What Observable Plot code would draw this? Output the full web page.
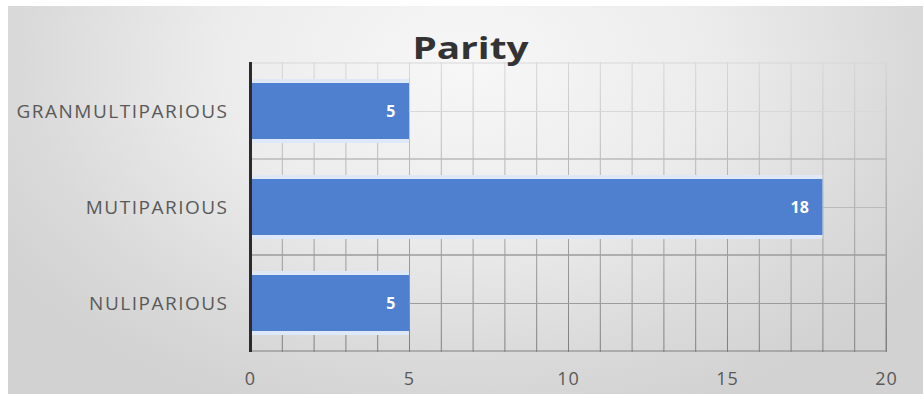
<!DOCTYPE html>
<html>
<head>
<meta charset="utf-8">
<script src="https://cdn.jsdelivr.net/npm/d3@7"></script>
<script src="https://cdn.jsdelivr.net/npm/@observablehq/plot@0.6"></script>
<style>
  html, body { margin: 0; padding: 0; background: #ffffff; }
  #chart { position: relative; width: 923px; height: 394px; overflow: hidden; }
  #chart .bg {
    position: absolute; left: 8px; top: 6px; right: 0; bottom: 0;
    background: radial-gradient(ellipse 60% 95% at 50% 15%, #f7f7f7 0%, #ececec 45%, #dadada 80%, #d2d2d2 100%);
  }
  #chart svg { position: absolute; left: 0; top: 0; }
  #chart .title {
    position: absolute; left: 0; width: 923px; top: 27px; text-align: center;
    font-family: "Open Sans", sans-serif; font-weight: 700; font-size: 31px;
    color: #333333; line-height: 40px; transform: translateX(9px) scaleX(1.25);
    pointer-events: none;
  }
</style>
</head>
<body>
<div id="chart"><div class="bg"></div></div>
<script>
// Parity of respondents
const categories = ["GRANMULTIPARIOUS", "MUTIPARIOUS", "NULIPARIOUS"];
const counts = [5, 18, 5];
const xTicks = [0, 5, 10, 15, 20];

const rows = categories.map((c, i) => ({category: c, count: counts[i]}));

const gridStroke = "url(#gridFade)";

const plot = Plot.plot({
  width: 923,
  height: 394,
  marginLeft: 250,
  marginRight: 37,
  marginTop: 62,
  marginBottom: 42,
  style: {background: "transparent", fontFamily: "Open Sans, sans-serif"},
  x: {domain: [0, 20], ticks: xTicks, label: null},
  y: {domain: categories, padding: 0, label: null},
  marks: [
    // minor vertical grid every unit
    Plot.gridX({interval: 1, stroke: gridStroke, strokeOpacity: 1}),
    // band boundaries and band centers
    Plot.cell(categories, {y: d => d, fill: "none", stroke: gridStroke}),
    Plot.ruleY(categories, {y: d => d, stroke: gridStroke}),
    // soft glow around bars
    Plot.barX(rows, {x: "count", y: "category", fill: "#dfe8f7", insetTop: 16, insetBottom: 16}),
    Plot.barX(rows, {x: "count", y: "category", fill: "#4f7fcf", insetTop: 20, insetBottom: 20}),
    Plot.ruleX([0], {stroke: "#2b2b2b", strokeWidth: 3}),
    Plot.text(rows, {
      x: "count", y: "category", text: d => String(d.count),
      textAnchor: "end", dx: -14, fill: "white", fontWeight: "bold", fontSize: 16
    }),
    Plot.axisX({ticks: xTicks, tickSize: 0, tickPadding: 20, fontSize: 18, fill: "#595959", label: null}),
    Plot.axisY({tickSize: 0, tickPadding: 22, fontSize: 19, fill: "#595959", label: null})
  ]
});

// vertical fade for the grid: faint near the top, darker toward the baseline
const [yTop, yBottom] = plot.scale("y").range;
const svgNS = "http://www.w3.org/2000/svg";
const defs = document.createElementNS(svgNS, "defs");
const grad = document.createElementNS(svgNS, "linearGradient");
grad.setAttribute("id", "gridFade");
grad.setAttribute("gradientUnits", "userSpaceOnUse");
grad.setAttribute("x1", 0); grad.setAttribute("x2", 0);
grad.setAttribute("y1", yTop); grad.setAttribute("y2", yBottom);
[["0%", "#d8d8d8"], ["40%", "#b4b4b4"], ["100%", "#7e7e7e"]].forEach(([o, c]) => {
  const s = document.createElementNS(svgNS, "stop");
  s.setAttribute("offset", o); s.setAttribute("stop-color", c);
  grad.appendChild(s);
});
defs.appendChild(grad);
plot.insertBefore(defs, plot.firstChild);

plot.querySelectorAll("g[aria-label='y-axis tick label'] text").forEach(t => {
  t.style.letterSpacing = "1.5px";
});
plot.querySelectorAll("g[aria-label='x-axis tick label'] text").forEach(t => {
  t.style.letterSpacing = "1px";
});

const chart = document.getElementById("chart");
chart.appendChild(plot);
const title = document.createElement("div");
title.className = "title";
title.textContent = "Parity";
chart.appendChild(title);
</script>
</body>
</html>
